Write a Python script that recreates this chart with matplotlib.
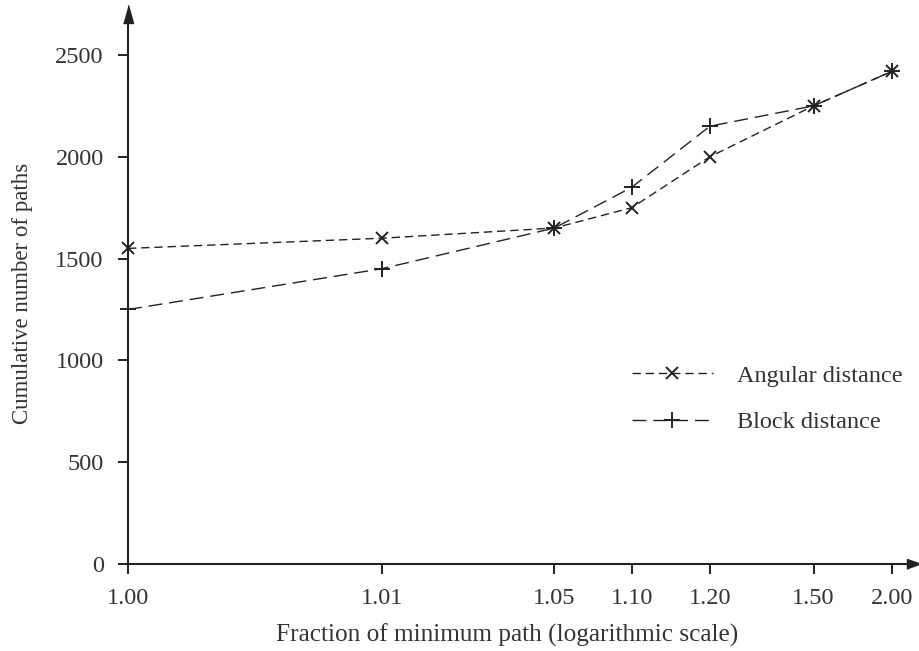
import numpy as np
import matplotlib
matplotlib.use('Agg')
import matplotlib.pyplot as plt

plt.rcParams['font.family'] = ['Liberation Serif', 'DejaVu Serif']

# fraction of minimum path
fractions = [1.00, 1.01, 1.05, 1.10, 1.20, 1.50, 2.00]
tick_labels = ['1.00', '1.01', '1.05', '1.10', '1.20', '1.50', '2.00']
angular = [1550, 1600, 1650, 1750, 2000, 2250, 2420]
block = [1250, 1450, 1650, 1850, 2150, 2250, 2420]
y_ticks = [0, 500, 1000, 1500, 2000, 2500]

INK = '#222222'
TXT = '#333333'
SHIFT = 0.9988  # "logarithmic" axis: log10(x - SHIFT)


def fwd(x):
    x = np.asarray(x, dtype=float)
    return np.log10(np.clip(x - SHIFT, 1e-9, None))


def inv(u):
    return 10 ** np.asarray(u, dtype=float) + SHIFT


fig = plt.figure(figsize=(9.2, 6.51), dpi=100)
ax = fig.add_axes([0.13913, 0.13364, 0.84674, 0.83103])
ax.set_xscale('function', functions=(fwd, inv))
ax.set_xlim(1.0, 2.14)
ax.set_ylim(0, 2657)

ax.plot(fractions, angular, color=INK, lw=1.0, dashes=(6, 3.5),
        marker='x', ms=8, mew=1.4, label='Angular distance', clip_on=False)
ax.plot(fractions, block, color=INK, lw=1.0, dashes=(10, 5),
        marker='+', ms=11, mew=1.4, label='Block distance', clip_on=False)

ax.set_xticks(fractions)
ax.set_xticklabels(tick_labels)
ax.xaxis.set_minor_locator(matplotlib.ticker.NullLocator())
ax.set_yticks(y_ticks)
ax.tick_params(axis='both', direction='out', length=7.5, width=1.4,
               color=INK, labelsize=17.5, labelcolor=TXT)
ax.tick_params(axis='y', pad=10)
ax.tick_params(axis='x', pad=10)

for side in ['top', 'right']:
    ax.spines[side].set_visible(False)
for side in ['left', 'bottom']:
    ax.spines[side].set_linewidth(1.5)
    ax.spines[side].set_color(INK)

# arrow heads on the axes
ax.plot(0, 1, marker=[(-5, 0), (5, 0), (0, 18)], ms=26, color=INK,
        transform=ax.transAxes, clip_on=False)
ax.plot(1, 0, marker=[(0, -5), (0, 5), (14, 0)], ms=20, color=INK,
        transform=ax.transAxes, clip_on=False)

ax.set_xlabel('Fraction of minimum path (logarithmic scale)', fontsize=18.2,
              color=TXT, labelpad=10)
ax.xaxis.label.set_x(0.487)
ax.set_ylabel('Cumulative number of paths', fontsize=16.5, color=TXT,
              labelpad=16)

leg = ax.legend(loc='center left', bbox_to_anchor=(0.647, 0.305),
                frameon=False, fontsize=17.5, numpoints=1, handlelength=3.33,
                handletextpad=1.0, labelspacing=1.0, borderpad=0,
                borderaxespad=0)
for t in leg.get_texts():
    t.set_color(TXT)

fig.savefig('out.png', dpi=100)
